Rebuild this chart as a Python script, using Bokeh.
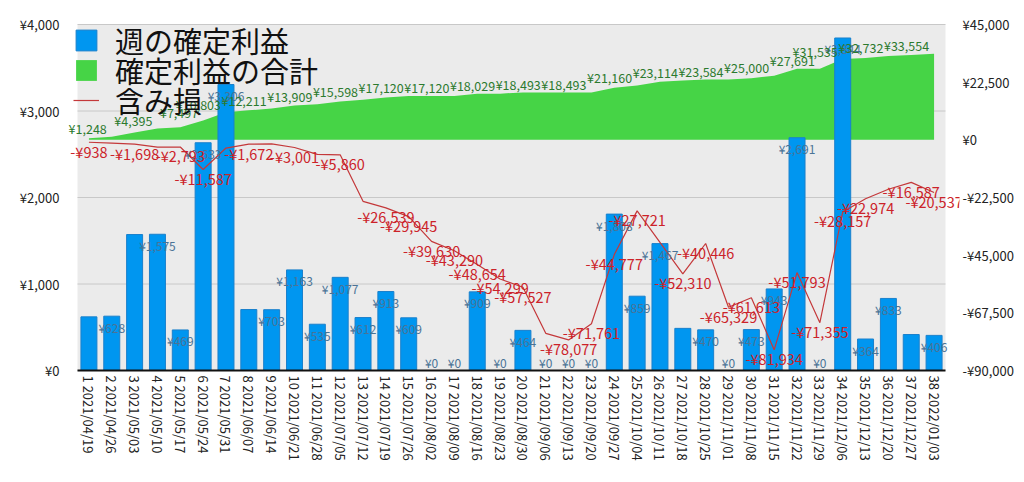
import math
from bokeh.plotting import figure
from bokeh.models import (Range1d, LinearAxis, FixedTicker, ColumnDataSource, Legend,
                          LegendItem, FactorRange, CustomJSTickFormatter, Label)
from bokeh.embed import file_html
from bokeh.resources import INLINE

weeks = ["1 2021/04/19", "2 2021/04/26", "3 2021/05/03", "4 2021/05/10", "5 2021/05/17",
         "6 2021/05/24", "7 2021/05/31", "8 2021/06/07", "9 2021/06/14", "10 2021/06/21",
         "11 2021/06/28", "12 2021/07/05", "13 2021/07/12", "14 2021/07/19", "15 2021/07/26",
         "16 2021/08/02", "17 2021/08/09", "18 2021/08/16", "19 2021/08/23", "20 2021/08/30",
         "21 2021/09/06", "22 2021/09/13", "23 2021/09/20", "24 2021/09/27", "25 2021/10/04",
         "26 2021/10/11", "27 2021/10/18", "28 2021/10/25", "29 2021/11/01", "30 2021/11/08",
         "31 2021/11/15", "32 2021/11/22", "33 2021/11/29", "34 2021/12/06", "35 2021/12/13",
         "36 2021/12/20", "37 2021/12/27", "38 2022/01/03"]

weekly_profit = [620, 628, 1572, 1575, 469, 2633, 3306, 705, 703, 1163,
                 535, 1077, 612, 913, 609, 0, 0, 909, 0, 464,
                 0, 0, 0, 1808, 859, 1467, 487, 470, 0, 473,
                 943, 2691, 0, 3844, 364, 833, 416, 406]

cumulative_profit = [620, 1248, 2820, 4395, 4864, 7497, 10803, 11508, 12211, 13374,
                     13909, 14986, 15598, 16511, 17120, 17120, 17120, 18029, 18029, 18493,
                     18493, 18493, 18493, 20301, 21160, 22627, 23114, 23584, 23584, 24057,
                     25000, 27691, 27691, 31535, 31899, 32732, 33148, 33554]

unrealized_loss = [-938, -1300, -1698, -2850, -2793, -11587, -3200, -1672, -1600, -3001,
                   -5700, -5860, -24000, -26539, -29945, -39630, -43290, -48654, -54299, -57527,
                   -75500, -78077, -71761, -44777, -27721, -40000, -52310, -40446, -65329, -61613,
                   -81934, -51793, -71355, -28157, -22974, -19300, -16587, -20537]

# labels that the original chart hides because they overlap others (1-based week numbers)
hidden_bar_labels = [1, 3, 8, 27, 37]
shown_cum_labels = [2, 4, 6, 7, 9, 11, 13, 15, 17, 19, 21, 23, 25, 27, 29, 31, 33, 34, 36, 38]
hidden_loss_labels = [2, 4, 7, 9, 11, 13, 21, 26, 36]

left_ticks = [0, 1000, 2000, 3000, 4000]
right_ticks = [-90000, -67500, -45000, -22500, 0, 22500, 45000]

series_names = ["週の確定利益", "確定利益の合計", "含み損"]

FONT = "Noto Sans CJK JP"
N = len(weeks)

# geometry: grey plot area is 346 px tall; the frame reaches 12 px higher so that the
# legend (which overlaps the top edge in the original) is not clipped
AREA_PX = 346.0
EXTRA_TOP_PX = 12.0
scale = (AREA_PX + EXTRA_TOP_PX) / AREA_PX


def yen(v):
    s = "¥{:,}".format(abs(int(v)))
    return "-" + s if v < 0 else s


src = ColumnDataSource(dict(week=weeks, profit=weekly_profit, cum=cumulative_profit,
                            loss=unrealized_loss))

x_range = FactorRange(factors=weeks, range_padding=0.613, range_padding_units="absolute")
y_range = Range1d(left_ticks[0], left_ticks[0] + (left_ticks[-1] - left_ticks[0]) * scale)
p = figure(width=1024, height=482, x_range=x_range, y_range=y_range,
           output_backend="svg", toolbar_location=None,
           min_border_left=63, min_border_right=65, min_border_top=24 - int(EXTRA_TOP_PX),
           min_border_bottom=112,
           background_fill_color="white", border_fill_color="white", outline_line_color=None)
p.extra_y_ranges = {"r": Range1d(right_ticks[0],
                                 right_ticks[0] + (right_ticks[-1] - right_ticks[0]) * scale)}

p.quad(left=0, right=N, bottom=left_ticks[0], top=left_ticks[-1],
       fill_color="#EBEBEB", line_color=None)
p.segment(x0=[0] * len(left_ticks), x1=[N] * len(left_ticks), y0=left_ticks, y1=left_ticks,
          line_color="#C8C8C8", line_width=1)

area = p.varea(x="week", y1=0, y2="cum", source=src, y_range_name="r",
               fill_color="#46D446")
bars = p.vbar(x="week", top="profit", width=0.7, source=src,
              fill_color="#0096F0", line_color="#1A80CC", line_width=1)
line = p.line(x="week", y="loss", source=src, y_range_name="r",
              line_color="#C4383A", line_width=1.2)

# bar labels (x given as the categorical axis' synthetic coordinate: index + 0.5)
for i, v in enumerate(weekly_profit):
    if (i + 1) in hidden_bar_labels:
        continue
    p.add_layout(Label(x=i + 0.5, y=v, text=yen(v), y_offset=(-11 if v > 220 else 8),
                       text_align="center", text_baseline="middle", text_font=FONT,
                       text_font_size="12px", text_color="#4A7396"))

# cumulative labels
for i, v in enumerate(cumulative_profit):
    if (i + 1) not in shown_cum_labels:
        continue
    p.add_layout(Label(x=i + 0.5, y=v, text=yen(v), y_range_name="r", x_offset=-5, y_offset=8,
                       text_align="right", text_baseline="middle", text_font=FONT,
                       text_font_size="12.5px", text_color="#2B7A2E"))

# unrealized loss labels
for i, v in enumerate(unrealized_loss):
    if (i + 1) in hidden_loss_labels:
        continue
    p.add_layout(Label(x=i + 0.5, y=v, text=yen(v), y_range_name="r", y_offset=-9,
                       text_align="center", text_baseline="middle", text_font=FONT,
                       text_font_size="14.5px", text_color="#CC2229"))

fmt = CustomJSTickFormatter(code="""
const s = '\u00a5' + Math.abs(tick).toLocaleString('en-US');
return tick < 0 ? '-' + s : s;
""")

# left axis
p.yaxis.ticker = FixedTicker(ticks=left_ticks)
p.yaxis.formatter = fmt
p.yaxis.axis_line_color = None
p.yaxis.major_tick_line_color = None
p.yaxis.minor_tick_line_color = None
p.yaxis.major_tick_out = 0
p.yaxis.major_label_standoff = 4
p.yaxis.major_label_text_font = FONT
p.yaxis.major_label_text_font_size = "13px"
p.yaxis.major_label_text_color = "#222222"

# right axis
ra = LinearAxis(y_range_name="r", ticker=FixedTicker(ticks=right_ticks), formatter=fmt,
                axis_line_color=None, major_tick_line_color=None, minor_tick_line_color=None,
                major_tick_out=0, major_label_standoff=3, major_label_text_align="right",
                major_label_text_font=FONT, major_label_text_font_size="13px",
                major_label_text_color="#222222")
p.add_layout(ra, "right")

# x axis
p.xaxis.bounds = (0, N)
p.xaxis.major_label_orientation = -math.pi / 2
p.xaxis.major_tick_line_color = None
p.xaxis.major_tick_out = 0
p.xaxis.axis_line_color = "#111111"
p.xaxis.axis_line_width = 2
p.xaxis.major_label_standoff = 5
p.xaxis.major_label_text_font = FONT
p.xaxis.major_label_text_font_size = "13px"
p.xaxis.major_label_text_color = "#222222"

p.ygrid.grid_line_color = None
p.xgrid.grid_line_color = None

# one legend per entry so that rows sit 30 px apart as in the original
for name, rend, loc in zip(series_names, [bars, area, line], [(10, 309), (10, 279), (10, 249)]):
    lg = Legend(items=[LegendItem(label=name, renderers=[rend])],
                location=loc, margin=0, padding=0,
                glyph_width=26, glyph_height=26, label_standoff=16,
                label_text_font=FONT, label_text_font_size="29px", label_text_color="#111111",
                background_fill_alpha=0, border_line_color=None)
    p.add_layout(lg)

open("out.html", "w").write(file_html(p, INLINE))
